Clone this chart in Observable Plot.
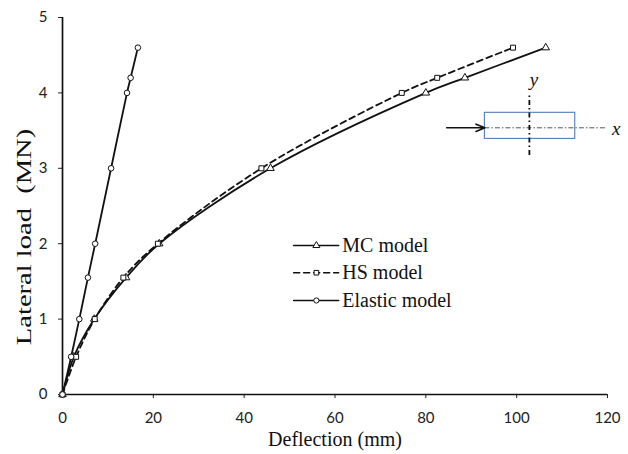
<!DOCTYPE html>
<html>
<head>
<meta charset="utf-8">
<script src="https://cdn.jsdelivr.net/npm/d3@7"></script>
<script src="https://cdn.jsdelivr.net/npm/@observablehq/plot@0.6"></script>
<style>
  html, body { margin: 0; padding: 0; background: #fff; }
</style>
</head>
<body>
<div id="chart"></div>
<script>
// ---- data ----
const loads  = [0, 0.5, 1.0, 1.55, 2.0, 3.0, 4.0, 4.2, 4.6];
const deflMC = [0, 2.5, 7.0, 14.0, 21.3, 45.8, 80.0, 88.6, 106.4];
const deflHS = [0, 3.0, 7.1, 13.4, 21.0, 43.8, 74.7, 82.5, 99.2];
const deflEl = [0, 1.9, 3.7, 5.6, 7.2, 10.7, 14.2, 15.0, 16.6];

const seriesNames = ["MC model", "HS model", "Elastic model"];
const xTicks = [0, 20, 40, 60, 80, 100, 120];
const yTicks = [0, 1, 2, 3, 4, 5];

// legend sample positions (data units)
const legendX = [50.9, 60.8];
const legendMarkX = 55.9;
const legendTextX = 61.6;
const legendY = [1.976, 1.615, 1.247];

// inset cross-section sketch (data units)
const insetRect = {x1: 93.0, x2: 112.9, y1: 3.39, y2: 3.736};
const insetAxisX = {x1: 93.0, x2: 120.0, y: 3.537};
const insetAxisY = {x: 102.8, y1: 3.17, y2: 3.965};
const insetArrow = {x1: 84.6, x2: 93.0, y: 3.537};
const insetLabels = [{t: "x", x: 121.0, y: 3.52}, {t: "y", x: 102.9, y: 4.17}];

const mk = (xs) => xs.map((d, i) => ({x: d, y: loads[i]}));
const mc = mk(deflMC), hs = mk(deflHS), el = mk(deflEl);

const serif = "'Liberation Serif', 'Times New Roman', serif";
const symbols = ["triangle", "square", "circle"];
const dashes = [null, "6,4", null];

const legendLines = seriesNames.map((n, i) => [
  {x: legendX[0], y: legendY[i]}, {x: legendX[1], y: legendY[i]}
]);

const marks = [
  Plot.ruleY([0], {stroke: "#111", strokeWidth: 1.7}),
  Plot.ruleX([0], {stroke: "#111", strokeWidth: 1.7}),
  // inset
  Plot.rect([insetRect], {x1: "x1", x2: "x2", y1: "y1", y2: "y2", fill: "none", stroke: "#4f7dbb", strokeWidth: 1.1}),
  Plot.ruleY([insetAxisX], {x1: "x1", x2: "x2", y: "y", stroke: "#555", strokeWidth: 1, strokeDasharray: "5,2,1.5,2"}),
  Plot.ruleX([insetAxisY], {x: "x", y1: "y1", y2: "y2", stroke: "#111", strokeWidth: 1.8, strokeDasharray: "5,3,1.5,3"}),
  Plot.arrow([insetArrow], {x1: "x1", x2: "x2", y1: "y", y2: "y", stroke: "#111", strokeWidth: 1.6, headLength: 9, headAngle: 45}),
  Plot.text(insetLabels, {x: "x", y: "y", text: "t", fontFamily: serif, fontSize: 19, fontStyle: "italic", fill: "#111", textAnchor: "start"}),
  // curves
  Plot.line(mc, {x: "x", y: "y", curve: "catmull-rom", stroke: "#111", strokeWidth: 1.8}),
  Plot.line(hs, {x: "x", y: "y", curve: "catmull-rom", stroke: "#111", strokeWidth: 1.8, strokeDasharray: "6,4"}),
  Plot.line(el, {x: "x", y: "y", curve: "catmull-rom", stroke: "#111", strokeWidth: 1.8}),
  Plot.dot(mc, {x: "x", y: "y", symbol: "triangle", r: 2.8, fill: "white", stroke: "#111", strokeWidth: 1}),
  Plot.dot(hs, {x: "x", y: "y", symbol: "square", r: 2.8, fill: "white", stroke: "#111", strokeWidth: 1}),
  Plot.dot(el, {x: "x", y: "y", symbol: "circle", r: 2.8, fill: "white", stroke: "#111", strokeWidth: 1}),
  // legend
  ...legendLines.map((seg, i) => Plot.line(seg, {x: "x", y: "y", stroke: "#111", strokeWidth: 1.6, strokeDasharray: dashes[i]})),
  ...seriesNames.map((n, i) => Plot.dot([{x: legendMarkX, y: legendY[i]}], {x: "x", y: "y", symbol: symbols[i], r: 2.6, fill: "white", stroke: "#111", strokeWidth: 1})),
  Plot.text(seriesNames.map((n, i) => ({t: n, y: legendY[i]})), {x: legendTextX, y: "y", text: "t", textAnchor: "start", fontFamily: serif, fontSize: 20, fill: "#111"}),
  // axis titles
  Plot.text(["Deflection (mm)"], {frameAnchor: "bottom", dy: 51, fontFamily: serif, fontSize: 20, fill: "#111"}),
  Plot.text(["Lateral load  (MN)"], {frameAnchor: "left", fontFamily: serif, fontSize: 21, fill: "#111", className: "ytitle"})
];

const chart = Plot.plot({
  width: 628,
  height: 454,
  marginLeft: 62,
  marginRight: 21,
  marginTop: 17,
  marginBottom: 60,
  style: {fontFamily: "Lato, 'Open Sans', sans-serif", fontSize: "15px", color: "#222", background: "white", overflow: "visible"},
  x: {domain: [0, 120], ticks: xTicks, tickSize: 4, tickPadding: 14, tickFormat: d => String(d), label: null},
  y: {domain: [0, 5], ticks: yTicks, tickSize: 4, tickPadding: 11, tickFormat: d => String(d), label: null},
  marks
});
// place the y title (rotated, stretched along its length like the reference)
const yt = chart.querySelector("g.ytitle");
if (yt) {
  yt.removeAttribute("transform");
  yt.querySelectorAll("text").forEach(t => {
    t.removeAttribute("x"); t.removeAttribute("y");
    t.setAttribute("text-anchor", "middle");
    t.setAttribute("dy", "0.35em");
    t.setAttribute("transform", "translate(24,237) rotate(-90) scale(1.36,1)");
  });
}
document.getElementById("chart").appendChild(chart);
</script>
</body>
</html>
